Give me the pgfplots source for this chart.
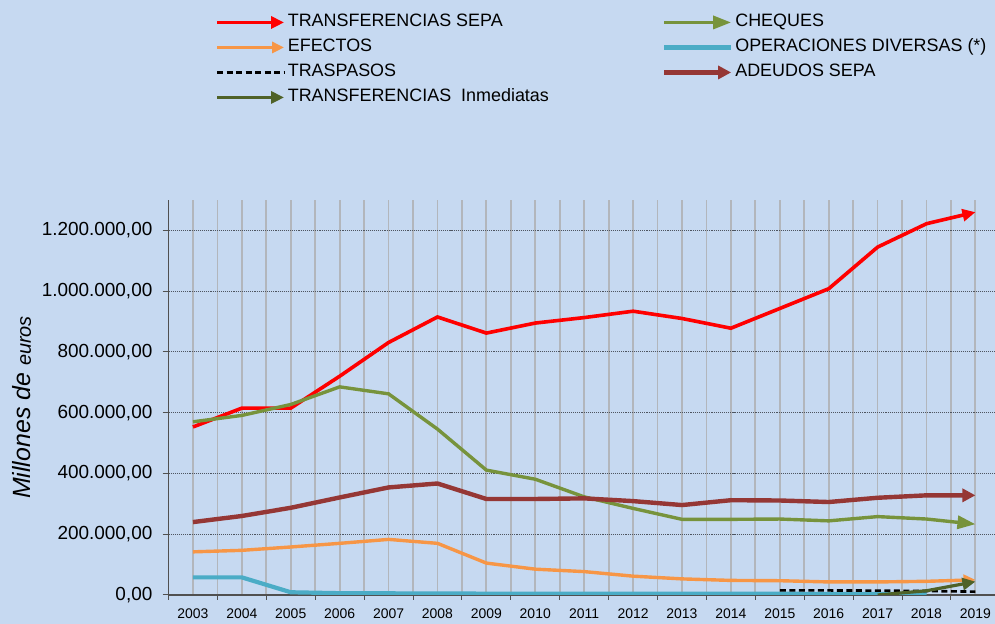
\documentclass[border=0pt]{standalone}
\usepackage{fontspec}
\setmainfont{Liberation Sans}
\usepackage{pgfplots}
\pgfplotsset{compat=1.18}
\usetikzlibrary{arrows.meta}
\definecolor{bg}{HTML}{C6D9F1}
\definecolor{cred}{HTML}{FF0000}
\definecolor{cgreen}{HTML}{77933C}
\definecolor{corange}{HTML}{F79646}
\definecolor{cblue}{HTML}{4BACC6}
\definecolor{cbrown}{HTML}{953735}
\definecolor{cdkgreen}{HTML}{4F6228}
\definecolor{vgrid}{HTML}{B2B6BC}
\definecolor{hgrid}{HTML}{4E5560}
\definecolor{axgray}{HTML}{505050}

\pgfplotstableread{
year val
2003 553000
2004 615000
2005 615000
2006 720000
2007 831000
2008 915000
2009 862000
2010 895000
2011 913000
2012 934000
2013 910000
2014 878000
2015 943000
2016 1008000
2017 1145000
2018 1222000
2019 1260000
}\tsepa
\pgfplotstableread{
year val
2003 570000
2004 591000
2005 627000
2006 685000
2007 662000
2008 546000
2009 411000
2010 381000
2011 323000
2012 285000
2013 249000
2014 249000
2015 250000
2016 244000
2017 258000
2018 250000
2019 233000
}\cheques
\pgfplotstableread{
year val
2003 142000
2004 147000
2005 158000
2006 170000
2007 183000
2008 170000
2009 105000
2010 85000
2011 77000
2012 62000
2013 53000
2014 48000
2015 47000
2016 43000
2017 43000
2018 45000
2019 50000
}\efectos
\pgfplotstableread{
year val
2003 58000
2004 58000
2005 9000
2006 6000
2007 5500
2008 5000
2009 4500
2010 4500
2011 4000
2012 4000
2013 4000
2014 4000
2015 4000
2016 3500
2017 3500
2018 3000
}\diversas
\pgfplotstableread{
year val
2015 15000
2016 15000
2017 14500
2018 13000
2019 11000
}\traspasos
\pgfplotstableread{
year val
2003 240000
2004 260000
2005 287000
2006 321000
2007 354000
2008 367000
2009 316000
2010 316000
2011 318000
2012 309000
2013 296000
2014 312000
2015 311000
2016 306000
2017 320000
2018 328000
2019 328000
}\adeudos
\pgfplotstableread{
year val
2017 0
2018 14000
2019 44000
}\inmediatas

\begin{document}
\begin{tikzpicture}
\fill[bg] (0,0) rectangle (995bp,624bp);
\useasboundingbox (0,0) rectangle (995bp,624bp);
\begin{axis}[
  at={(168.5bp,29bp)}, anchor=south west,
  scale only axis, width=826.5bp, height=395bp,
  xmin=2002.5, xmax=2019.4, ymin=0, ymax=1300000,
  axis x line*=bottom, axis y line*=left,
  axis line style={color=axgray, line width=1.3bp},
  tick align=outside,
  xtick={2003,...,2019},
  xticklabels={2003,2004,2005,2006,2007,2008,2009,2010,2011,2012,2013,2014,2015,2016,2017,2018,2019},
  minor xtick={2002.5,2003.5,...,2019.5},
  major tick length=6bp, minor tick length=5bp,
  major x tick style={draw=none},
  minor x tick style={color=axgray, line width=1bp},
  y tick style={color=axgray, line width=1bp},
  xmajorgrids, xminorgrids, ymajorgrids,
  major x grid style={color=vgrid, line width=1.8bp},
  minor x grid style={color=vgrid, line width=1.8bp},
  major y grid style={color=hgrid, line width=1.1bp, densely dotted},
  ytick={0,200000,...,1200000},
  scaled y ticks=false,
  yticklabel style={font=\fontsize{19}{21}\selectfont, inner sep=0pt, xshift=-10bp,
    /pgf/number format/.cd, fixed, fixed zerofill, precision=2, 1000 sep={.}, dec sep={,}, assume math mode=true},
  xticklabel style={font=\fontsize{14}{16}\selectfont, inner sep=0pt, yshift=-8bp},
  ylabel={\fontsize{25}{28}\selectfont\itshape Millones de \fontsize{20}{24}\selectfont euros},
  ylabel style={at={(axis description cs:-0.1772,0.4747)}, anchor=center},
  legend columns=2,
  legend cell align=left,
  legend image code/.code={\draw[#1] (0bp,0bp) -- (67bp,0bp);},
  legend style={at={(axis description cs:0.0563,1.474)}, anchor=north west,
    draw=none, fill=none, inner sep=0pt, row sep=6bp,
    font=\fontsize{18}{20}\selectfont,
    nodes={inner sep=1bp, text height=13bp, text depth=4bp},
    /tikz/every even column/.append style={column sep=112bp},
    /tikz/every odd column/.append style={column sep=1bp}},
]
\addplot[cred, line width=3.6bp, -{Triangle[length=13bp,width=12bp]}] table[x=year,y=val]{\tsepa};
\addlegendentry{TRANSFERENCIAS SEPA}
\addplot[cgreen, line width=3.4bp, -{Triangle[length=18bp,width=13bp]}] table[x=year,y=val]{\cheques};
\addlegendentry{CHEQUES}
\addplot[corange, line width=3.4bp, -{Triangle[length=12bp,width=11bp]}] table[x=year,y=val]{\efectos};
\addlegendentry{EFECTOS}
\addplot[cblue, line width=4.2bp] table[x=year,y=val]{\diversas};
\addlegendentry{OPERACIONES DIVERSAS (*)}
\addplot[black, line width=2.6bp, dash pattern=on 6bp off 3.5bp] table[x=year,y=val]{\traspasos};
\addlegendentry{TRASPASOS}
\addplot[cbrown, line width=4.4bp, -{Triangle[length=13bp,width=13bp]}] table[x=year,y=val]{\adeudos};
\addlegendentry{ADEUDOS SEPA}
\addplot[cdkgreen, line width=3.2bp, -{Triangle[length=13bp,width=12bp]}] table[x=year,y=val]{\inmediatas};
\addlegendentry{TRANSFERENCIAS\ \ Inmediatas}
\end{axis}
\end{tikzpicture}
\end{document}
